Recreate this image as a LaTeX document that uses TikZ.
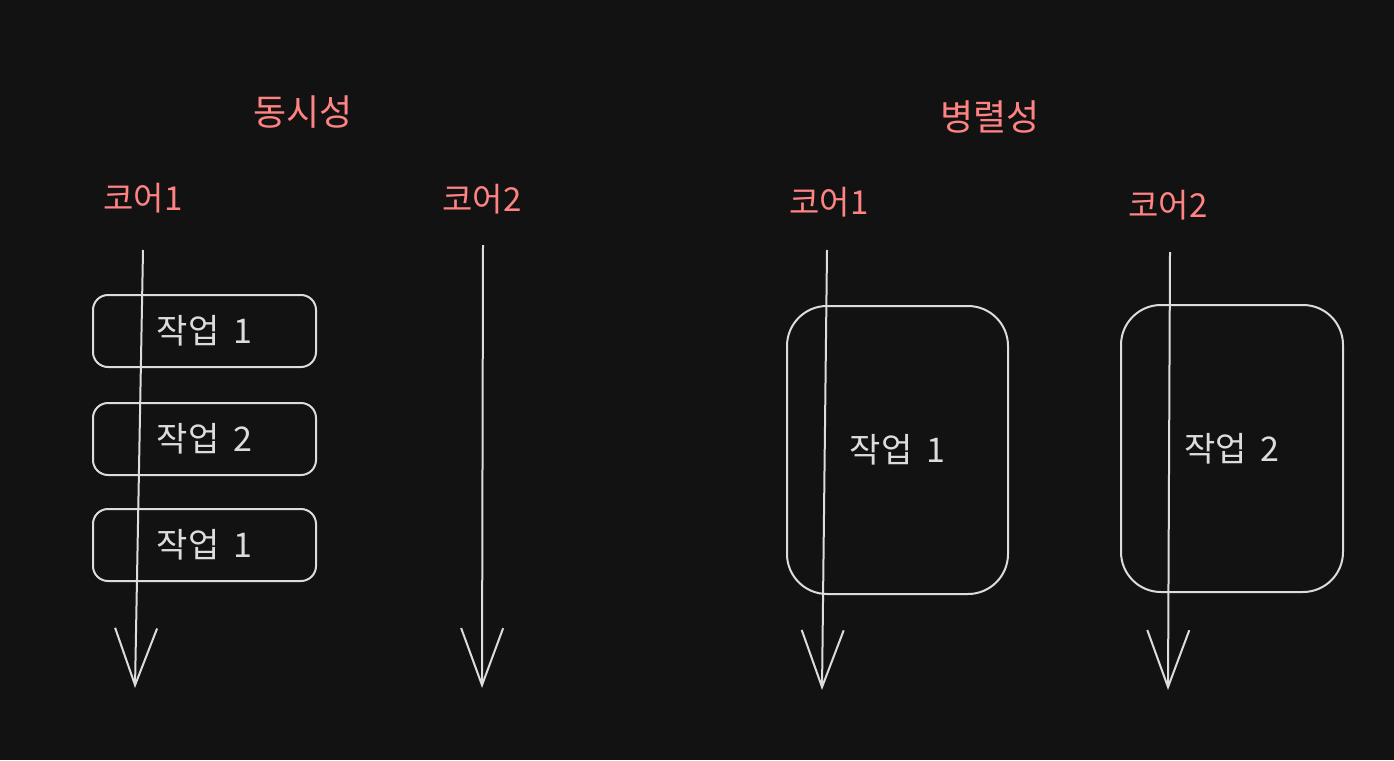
\documentclass[tikz,border=0pt]{standalone}
\usepackage{fontspec}
\setmainfont{Noto Sans CJK KR}
\usetikzlibrary{arrows.meta}
\definecolor{bg}{HTML}{121212}
\definecolor{redtxt}{HTML}{FF8383}
\definecolor{strokec}{HTML}{DCDCDC}
\tikzset{
  title/.style={text=redtxt, font=\fontsize{36}{40}\selectfont, inner sep=0pt},
  corelabel/.style={text=redtxt, font=\fontsize{33}{36}\selectfont, inner sep=0pt},
  taskbox/.style={draw=strokec, line width=2pt, rounded corners=15pt, text=strokec,
    font=\fontsize{34}{36}\selectfont, inner sep=0pt},
  bigbox/.style={taskbox, rounded corners=40pt},
  timeline/.style={draw=strokec, line width=2pt, -{Straight Barb[length=57pt,width=42pt,line width=2pt]}}
}
\begin{document}
\begin{tikzpicture}[x=1pt,y=-1pt]
\fill[bg] (0,0) rectangle (1394,760);
\useasboundingbox (0,0) rectangle (1394,760);

\node[title] (tconc) at (303,112) {동시성};
\node[title] (tpar) at (990,117) {병렬성};

\node[corelabel] (c1l) at (143,198) {코어1};
\node[corelabel] (c2l) at (482,199) {코어2};
\node[corelabel] (c1r) at (829,202) {코어1};
\node[corelabel] (c2r) at (1168,205) {코어2};

\node[taskbox, minimum width=223pt, minimum height=72pt] (b1) at (204.5,331) {작업\hspace{6pt} 1};
\node[taskbox, minimum width=223pt, minimum height=72pt] (b2) at (204.5,439) {작업\hspace{6pt} 2};
\node[taskbox, minimum width=223pt, minimum height=72pt] (b3) at (204.5,545) {작업\hspace{6pt} 1};

\node[bigbox, minimum width=221pt, minimum height=288pt] (B1) at (897.5,450) {작업\hspace{6pt} 1};
\node[bigbox, minimum width=222pt, minimum height=287pt] (B2) at (1232,448.5) {작업\hspace{6pt} 2};

\coordinate (a1s) at (143,250); \coordinate (a1e) at (135,688);
\coordinate (a2s) at (483,245); \coordinate (a2e) at (482,688);
\coordinate (a3s) at (827,250); \coordinate (a3e) at (822,690);
\coordinate (a4s) at (1170,252); \coordinate (a4e) at (1168,690);

\draw[timeline] (a1s) -- (a1e);
\draw[timeline] (a2s) -- (a2e);
\draw[timeline] (a3s) -- (a3e);
\draw[timeline] (a4s) -- (a4e);
\end{tikzpicture}
\end{document}
